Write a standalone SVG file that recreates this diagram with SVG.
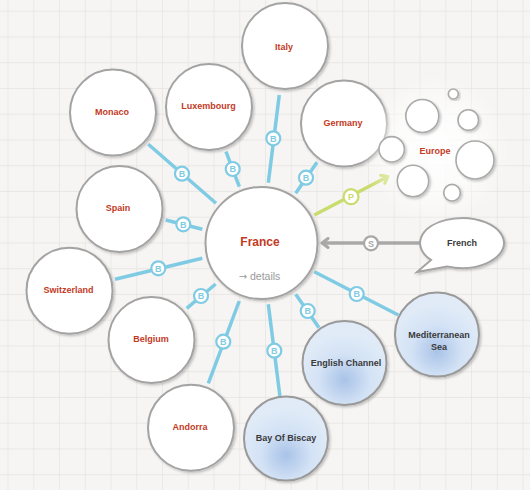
<svg xmlns="http://www.w3.org/2000/svg" width="530" height="490" viewBox="0 0 530 490">
<defs>
<pattern id="grid" patternUnits="userSpaceOnUse" x="7.5" y="10.7" width="25.75" height="25.75">
<path d="M0 0V25.75M0 0H25.75" stroke="#e6e3df" stroke-width="1.3" fill="none"/>
</pattern>
<radialGradient id="sea" cx="50%" cy="70%" r="55%">
<stop offset="0" stop-color="#a9c3e8"/>
<stop offset="0.55" stop-color="#d3e2f5"/>
<stop offset="1" stop-color="#e0ebf7"/>
</radialGradient>
<radialGradient id="glow" cx="50%" cy="50%" r="50%">
<stop offset="0" stop-color="#ffffff" stop-opacity="1"/>
<stop offset="0.5" stop-color="#ffffff" stop-opacity="0.7"/>
<stop offset="1" stop-color="#ffffff" stop-opacity="0"/>
</radialGradient>
<filter id="sh" x="-20%" y="-20%" width="140%" height="140%">
<feDropShadow dx="1.5" dy="1.5" stdDeviation="1.3" flood-color="#000" flood-opacity="0.22"/>
</filter>
<marker id="arrG" markerWidth="12" markerHeight="12" refX="9" refY="6" orient="auto" markerUnits="userSpaceOnUse">
<path d="M3 1.5L9 6L3 10.5" fill="none" stroke="#c9dc6e" stroke-width="3" stroke-linecap="round" stroke-linejoin="round"/>
</marker>
<marker id="arrS" markerWidth="12" markerHeight="12" refX="9" refY="6" orient="auto" markerUnits="userSpaceOnUse">
<path d="M3 1.5L9 6L3 10.5" fill="none" stroke="#a8a8a8" stroke-width="3" stroke-linecap="round" stroke-linejoin="round"/>
</marker>
</defs>
<style>
.node{fill:#fff;stroke:#a3a3a3;stroke-width:2}
.seaNode{fill:url(#sea);stroke:#999;stroke-width:2}
.lbl{font-family:"Liberation Sans",Arial,sans-serif;font-weight:bold;font-size:9px;fill:#c33a1f;text-anchor:middle}
.dark{fill:#3a3a3a}
.b{stroke:#80cbe4;stroke-width:3.5;fill:none}
.badge{fill:#fff;stroke:#80cbe4;stroke-width:2.2}
.bt{font-family:"Liberation Sans",Arial,sans-serif;font-weight:bold;font-size:9px;fill:#80cbe4;text-anchor:middle}
.cl{fill:#fff;stroke:#aaa;stroke-width:1.6}
</style>
<rect width="530" height="490" fill="#f6f5f3"/>
<rect width="530" height="490" fill="url(#grid)"/>

<g id="connectors">
<line class="b" x1="148.3" y1="144.3" x2="216" y2="203.3"/>
<line class="b" x1="226" y1="151.7" x2="239.3" y2="186.7"/>
<line class="b" x1="165.7" y1="220" x2="202.3" y2="229.3"/>
<line class="b" x1="279.3" y1="95" x2="268.3" y2="182.7"/>
<line class="b" x1="317" y1="162.3" x2="295.7" y2="193.3"/>
<line class="b" x1="115" y1="279.3" x2="202.3" y2="258.3"/>
<line class="b" x1="186.7" y1="308.3" x2="215.7" y2="284"/>
<line class="b" x1="208.3" y1="383.3" x2="239.3" y2="301"/>
<line class="b" x1="268.3" y1="304.3" x2="280" y2="396.7"/>
<line class="b" x1="295.7" y1="294.3" x2="319" y2="327.7"/>
<line class="b" x1="314.3" y1="271.7" x2="398.3" y2="315"/>
<line x1="314.3" y1="215" x2="388" y2="176.5" stroke="#c9dc6e" stroke-width="3.5" marker-end="url(#arrG)"/>
<line x1="420" y1="243" x2="322" y2="243" stroke="#a8a8a8" stroke-width="3.5" marker-end="url(#arrS)"/>
<g>
<circle class="badge" cx="182" cy="173.7" r="7"/><text class="bt" x="182" y="177">B</text>
<circle class="badge" cx="232.7" cy="169" r="7"/><text class="bt" x="232.7" y="172.3">B</text>
<circle class="badge" cx="183.3" cy="224.3" r="7"/><text class="bt" x="183.3" y="227.6">B</text>
<circle class="badge" cx="273.3" cy="138.3" r="7"/><text class="bt" x="273.3" y="141.6">B</text>
<circle class="badge" cx="306" cy="177.7" r="7"/><text class="bt" x="306" y="181">B</text>
<circle class="badge" cx="158.3" cy="268.3" r="7"/><text class="bt" x="158.3" y="271.6">B</text>
<circle class="badge" cx="201" cy="296" r="7"/><text class="bt" x="201" y="299.3">B</text>
<circle class="badge" cx="223.3" cy="341.7" r="7"/><text class="bt" x="223.3" y="345">B</text>
<circle class="badge" cx="274.3" cy="350.7" r="7"/><text class="bt" x="274.3" y="354">B</text>
<circle class="badge" cx="307.7" cy="311" r="7"/><text class="bt" x="307.7" y="314.3">B</text>
<circle class="badge" cx="356.7" cy="294" r="7"/><text class="bt" x="356.7" y="297.3">B</text>
<circle cx="351" cy="196.7" r="7.5" fill="#fff" stroke="#c9dc6e" stroke-width="2.2"/><text class="bt" x="351" y="200" style="fill:#c9dc6e">P</text>
<circle cx="371" cy="243.3" r="7" fill="#fff" stroke="#a8a8a8" stroke-width="2.2"/><text class="bt" x="371" y="246.6" style="fill:#a8a8a8">S</text>
</g>
</g>

<g id="france">
<circle class="node" cx="261.5" cy="243" r="56" filter="url(#sh)"/>
<text x="260" y="246" style="font-family:'Liberation Sans',Arial,sans-serif;font-weight:bold;font-size:12px;fill:#c33a1f;text-anchor:middle">France</text>
<text x="259.5" y="279.5" style="font-family:'Liberation Sans',Arial,sans-serif;font-size:10.5px;fill:#9a9a9a;text-anchor:middle"><tspan style="font-family:'DejaVu Sans',sans-serif;font-size:10px">→</tspan> details</text>
</g>
<g id="italy"><circle class="node" cx="285" cy="46" r="43" filter="url(#sh)"/><text class="lbl" x="284" y="50">Italy</text></g>
<g id="germany"><circle class="node" cx="344" cy="123.5" r="43" filter="url(#sh)"/><text class="lbl" x="343" y="125.5">Germany</text></g>
<g id="luxembourg"><circle class="node" cx="209" cy="107" r="43" filter="url(#sh)"/><text class="lbl" x="208.5" y="109">Luxembourg</text></g>
<g id="monaco"><circle class="node" cx="113" cy="112.5" r="43" filter="url(#sh)"/><text class="lbl" x="112" y="115">Monaco</text></g>
<g id="spain"><circle class="node" cx="119.5" cy="209" r="43" filter="url(#sh)"/><text class="lbl" x="118" y="211">Spain</text></g>
<g id="switzerland"><circle class="node" cx="69.5" cy="290.7" r="43" filter="url(#sh)"/><text class="lbl" x="68.5" y="292.7">Switzerland</text></g>
<g id="belgium"><circle class="node" cx="151.5" cy="340" r="43" filter="url(#sh)"/><text class="lbl" x="151" y="342">Belgium</text></g>
<g id="andorra"><circle class="node" cx="191" cy="427.7" r="43" filter="url(#sh)"/><text class="lbl" x="190" y="429.5">Andorra</text></g>
<g id="bay-of-biscay"><circle class="seaNode" cx="286" cy="438.5" r="42" filter="url(#sh)"/><text class="lbl dark" x="286" y="441">Bay Of Biscay</text></g>
<g id="english-channel"><circle class="seaNode" cx="344.5" cy="363" r="42" filter="url(#sh)"/><text class="lbl dark" x="346" y="365.5">English Channel</text></g>
<g id="mediterranean-sea"><circle class="seaNode" cx="437" cy="334.5" r="42" filter="url(#sh)"/><text class="lbl dark" x="439" y="337.5">Mediterranean</text><text class="lbl dark" x="439" y="350">Sea</text></g>
<g id="french">
<path d="M431,259.9L417,272L447,266.4A42 25 0 1 0 431,259.9Z" fill="#fff" stroke="#a3a3a3" stroke-width="2" filter="url(#sh)"/>
<text class="lbl dark" x="462" y="246">French</text>
</g>
<g id="europe">
<circle cx="435" cy="150" r="75" fill="url(#glow)"/>
<circle class="cl" cx="453.3" cy="94" r="5" filter="url(#sh)"/>
<circle class="cl" cx="422.3" cy="116" r="16.5" filter="url(#sh)"/>
<circle class="cl" cx="468.3" cy="120" r="10.3" filter="url(#sh)"/>
<circle class="cl" cx="391.7" cy="149.3" r="12.7" filter="url(#sh)"/>
<circle class="cl" cx="475" cy="160" r="19" filter="url(#sh)"/>
<circle class="cl" cx="413" cy="181" r="15.7" filter="url(#sh)"/>
<circle class="cl" cx="452" cy="192.7" r="8.3" filter="url(#sh)"/>
<text class="lbl" x="435" y="154">Europe</text>
</g>
</svg>
